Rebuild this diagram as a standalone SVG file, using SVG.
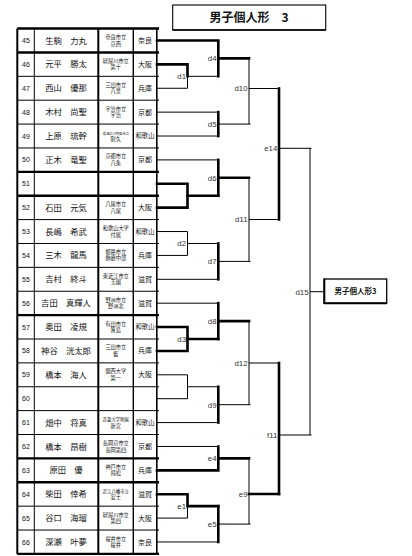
<svg xmlns="http://www.w3.org/2000/svg" width="412" height="556" viewBox="0 0 412 556">
<style>
.tk{stroke:#000;stroke-width:2.6;fill:none;stroke-linecap:square}
.tn{stroke:#000;stroke-width:1;fill:none}
.tb{stroke:#000;fill:none}
.num{font-family:"Liberation Sans","Noto Sans CJK JP",sans-serif;font-size:7px;text-anchor:middle;fill:#111}
.nm{font-family:"Noto Sans CJK JP",sans-serif;font-size:8.3px;text-anchor:middle;fill:#111}
.sc{font-family:"Noto Sans CJK JP",sans-serif;font-size:5.2px;text-anchor:middle;fill:#111}
.pf{font-family:"Noto Sans CJK JP",sans-serif;font-size:7px;text-anchor:middle;fill:#111}
.pf3{font-family:"Noto Sans CJK JP",sans-serif;font-size:6.3px;text-anchor:middle;fill:#111}
.lb{font-family:"Liberation Sans",sans-serif;font-size:7.8px;text-anchor:end;fill:#333}
.ttl{font-family:"Noto Sans CJK JP",sans-serif;font-size:12px;font-weight:bold;text-anchor:middle;fill:#111}
.res{font-family:"Noto Sans CJK JP",sans-serif;font-size:7.5px;font-weight:bold;text-anchor:middle;fill:#111}
</style>

<g id="title">
<rect x="172.7" y="5" width="153" height="25" fill="#fff" stroke="#000" stroke-width="1.1"/>
<line x1="172.7" y1="30" x2="325.7" y2="30" stroke="#000" stroke-width="1.6"/>
<text class="ttl" x="249" y="22">男子個人形　3</text>
</g>

<g id="table-grid">
<g class="tb" stroke-width="1">
<line x1="17.3" y1="76.32" x2="159" y2="76.32"/>
<line x1="17.3" y1="100.2" x2="159" y2="100.2"/>
<line x1="17.3" y1="124.08" x2="159" y2="124.08"/>
<line x1="17.3" y1="147.96" x2="159" y2="147.96"/>
<line x1="17.3" y1="219.6" x2="159" y2="219.6"/>
<line x1="17.3" y1="243.48" x2="159" y2="243.48"/>
<line x1="17.3" y1="267.36" x2="159" y2="267.36"/>
<line x1="17.3" y1="291.24" x2="159" y2="291.24"/>
<line x1="17.3" y1="339" x2="159" y2="339"/>
<line x1="17.3" y1="362.88" x2="159" y2="362.88"/>
<line x1="17.3" y1="386.76" x2="159" y2="386.76"/>
<line x1="17.3" y1="410.64" x2="159" y2="410.64"/>
<line x1="17.3" y1="434.52" x2="159" y2="434.52"/>
<line x1="17.3" y1="506.16" x2="159" y2="506.16"/>
<line x1="17.3" y1="530.04" x2="159" y2="530.04"/>
</g>
<g class="tb" stroke-width="2.4">
<line x1="17.3" y1="28.56" x2="159" y2="28.56"/>
<line x1="17.3" y1="52.44" x2="159" y2="52.44"/>
<line x1="17.3" y1="171.84" x2="159" y2="171.84"/>
<line x1="17.3" y1="195.72" x2="159" y2="195.72"/>
<line x1="17.3" y1="315.12" x2="159" y2="315.12"/>
<line x1="17.3" y1="458.4" x2="159" y2="458.4"/>
<line x1="17.3" y1="482.28" x2="159" y2="482.28"/>
<line x1="17.3" y1="553.92" x2="159" y2="553.92"/>
</g>
<line class="tb" stroke-width="2" x1="17.3" y1="28.56" x2="17.3" y2="553.92"/>
<line class="tb" stroke-width="1" x1="34.3" y1="28.56" x2="34.3" y2="553.92"/>
<line class="tb" stroke-width="2" x1="98.3" y1="28.56" x2="98.3" y2="553.92"/>
<line class="tb" stroke-width="1.4" x1="133.3" y1="28.56" x2="133.3" y2="553.92"/>
<line class="tb" stroke-width="1.6" x1="156.8" y1="28.56" x2="156.8" y2="553.92"/>
</g>

<g id="p45"><text class="num" x="26" y="43">45</text><text class="nm" x="66" y="43.5">生駒　力丸</text><text class="sc" x="115.8" y="39">奈良市立</text><text class="sc" x="115.8" y="45.5">京西</text><text class="pf" x="145" y="43">奈良</text></g>
<g id="p46"><text class="num" x="26" y="66.9">46</text><text class="nm" x="66" y="67.4">元平　勝太</text><text class="sc" x="115.8" y="62.9">寝屋川市立</text><text class="sc" x="115.8" y="69.4">第十</text><text class="pf" x="145" y="66.9">大阪</text></g>
<g id="p47"><text class="num" x="26" y="90.8">47</text><text class="nm" x="66" y="91.3">西山　優那</text><text class="sc" x="115.8" y="86.8">三田市立</text><text class="sc" x="115.8" y="93.3">八景</text><text class="pf" x="145" y="90.8">兵庫</text></g>
<g id="p48"><text class="num" x="26" y="114.6">48</text><text class="nm" x="66" y="115.1">木村　尚聖</text><text class="sc" x="115.8" y="110.6">宇治市立</text><text class="sc" x="115.8" y="117.1">宇治</text><text class="pf" x="145" y="114.6">京都</text></g>
<g id="p49"><text class="num" x="26" y="138.5">49</text><text class="nm" x="66" y="139">上原　琉幹</text><text class="sc" x="115.8" y="134.5" style="font-size:3.3px">湯浅広川町組合立</text><text class="sc" x="115.8" y="141">耐久</text><text class="pf3" x="145" y="138.3">和歌山</text></g>
<g id="p50"><text class="num" x="26" y="162.4">50</text><text class="nm" x="66" y="162.9">正木　竜聖</text><text class="sc" x="115.8" y="158.4">京都市立</text><text class="sc" x="115.8" y="164.9">八条</text><text class="pf" x="145" y="162.4">京都</text></g>
<g id="p51"><text class="num" x="26" y="186.3">51</text></g>
<g id="p52"><text class="num" x="26" y="210.2">52</text><text class="nm" x="66" y="210.7">石田　元気</text><text class="sc" x="115.8" y="206.2">八尾市立</text><text class="sc" x="115.8" y="212.7">八尾</text><text class="pf" x="145" y="210.2">大阪</text></g>
<g id="p53"><text class="num" x="26" y="234">53</text><text class="nm" x="66" y="234.5">長嶋　希武</text><text class="sc" x="115.8" y="230">和歌山大学</text><text class="sc" x="115.8" y="236.5">付属</text><text class="pf3" x="145" y="233.8">和歌山</text></g>
<g id="p54"><text class="num" x="26" y="257.9">54</text><text class="nm" x="66" y="258.4">三木　龍馬</text><text class="sc" x="115.8" y="253.9">姫路市立</text><text class="sc" x="115.8" y="260.4">飾磨中部</text><text class="pf" x="145" y="257.9">兵庫</text></g>
<g id="p55"><text class="num" x="26" y="281.8">55</text><text class="nm" x="66" y="282.3">吉村　終斗</text><text class="sc" x="115.8" y="277.8">東近江市立</text><text class="sc" x="115.8" y="284.3">玉園</text><text class="pf" x="145" y="281.8">滋賀</text></g>
<g id="p56"><text class="num" x="26" y="305.7">56</text><text class="nm" x="66" y="306.2">吉田　真輝人</text><text class="sc" x="115.8" y="301.7">野洲市立</text><text class="sc" x="115.8" y="308.2">野洲北</text><text class="pf" x="145" y="305.7">滋賀</text></g>
<g id="p57"><text class="num" x="26" y="329.6">57</text><text class="nm" x="66" y="330.1">奥田　凌規</text><text class="sc" x="115.8" y="325.6">有田市立</text><text class="sc" x="115.8" y="332.1">箕島</text><text class="pf3" x="145" y="329.4">和歌山</text></g>
<g id="p58"><text class="num" x="26" y="353.4">58</text><text class="nm" x="66" y="353.9">神谷　洸太郎</text><text class="sc" x="115.8" y="349.4">三田市立</text><text class="sc" x="115.8" y="355.9">藍</text><text class="pf" x="145" y="353.4">兵庫</text></g>
<g id="p59"><text class="num" x="26" y="377.3">59</text><text class="nm" x="66" y="377.8">橋本　海人</text><text class="sc" x="115.8" y="373.3">関西大学</text><text class="sc" x="115.8" y="379.8">第一</text><text class="pf" x="145" y="377.3">大阪</text></g>
<g id="p60"><text class="num" x="26" y="401.2">60</text></g>
<g id="p61"><text class="num" x="26" y="425.1">61</text><text class="nm" x="66" y="425.6">畑中　将真</text><text class="sc" x="115.8" y="421.1" style="font-size:4.4px">近畿大学附属</text><text class="sc" x="115.8" y="427.6">新宮</text><text class="pf3" x="145" y="424.9">和歌山</text></g>
<g id="p62"><text class="num" x="26" y="449">62</text><text class="nm" x="66" y="449.5">橋本　昂樹</text><text class="sc" x="115.8" y="445">長岡京市立</text><text class="sc" x="115.8" y="451.5">長岡第四</text><text class="pf" x="145" y="449">京都</text></g>
<g id="p63"><text class="num" x="26" y="472.8">63</text><text class="nm" x="66" y="473.3">原田　優</text><text class="sc" x="115.8" y="468.8">神戸市立</text><text class="sc" x="115.8" y="475.3">飛松</text><text class="pf" x="145" y="472.8">兵庫</text></g>
<g id="p64"><text class="num" x="26" y="496.7">64</text><text class="nm" x="66" y="497.2">柴田　倖希</text><text class="sc" x="115.8" y="492.7" style="font-size:4.4px">近江八幡市立</text><text class="sc" x="115.8" y="499.2">安土</text><text class="pf" x="145" y="496.7">滋賀</text></g>
<g id="p65"><text class="num" x="26" y="520.6">65</text><text class="nm" x="66" y="521.1">谷口　海瑠</text><text class="sc" x="115.8" y="516.6">寝屋川市立</text><text class="sc" x="115.8" y="523.1">第四</text><text class="pf" x="145" y="520.6">大阪</text></g>
<g id="p66"><text class="num" x="26" y="544.5">66</text><text class="nm" x="66" y="545">深瀬　叶夢</text><text class="sc" x="115.8" y="540.5">桜井市立</text><text class="sc" x="115.8" y="547">桜井</text><text class="pf" x="145" y="544.5">奈良</text></g>

<g id="connectors">
<g class="tn">
<path d="M157 88.26H187.5V76.32"/>
<path d="M157 112.14H218.3"/>
<path d="M157 136.02H218.3"/>
<path d="M157 159.9H218.3"/>
<path d="M157 231.54H187.5V255.42H157"/>
<path d="M157 279.3H218.3"/>
<path d="M157 303.18H218.3"/>
<path d="M157 374.82H187.5V398.7H157"/>
<path d="M157 422.58H218.3"/>
<path d="M157 446.46H218.3"/>
<path d="M157 518.1H187.5V506.16"/>
<path d="M157 541.98H218.3"/>
<path d="M187.5 76.32H218.3"/>
<path d="M187.5 243.48H218.3"/>
<path d="M187.5 386.76H218.3"/>
<path d="M218.3 124.08H250.5"/>
<path d="M218.3 261.4H250.5"/>
<path d="M218.3 404.7H250.5"/>
<path d="M218.3 524.07H250.5"/>
<path d="M249 58.4V124.08"/>
<path d="M249 177.8V261.4"/>
<path d="M249 321.1V404.7"/>
<path d="M249 458.4V524.07"/>
<path d="M249 88.5H279"/>
<path d="M249 219.5H279"/>
<path d="M249 363H279"/>
<path d="M279 148.3H311.5"/>
<path d="M279 435H311.5"/>
<path d="M310 148.3V435"/>
<path d="M310 291.7H324.3"/>
</g>
<g class="tk">
<path d="M157 40.5H218.3V76.32"/>
<path d="M157 64.38H187.5V76.32"/>
<path d="M157 183.78H187.5V207.66H157"/>
<path d="M187.5 195.72H218.3"/>
<path d="M218.3 159.9V195.72"/>
<path d="M157 327.06H187.5V350.94H157"/>
<path d="M187.5 339H218.3"/>
<path d="M218.3 303.18V339"/>
<path d="M157 470.34H218.3V446.46"/>
<path d="M157 494.22H187.5V506.16H218.3"/>
<path d="M218.3 112.14V136.02"/>
<path d="M218.3 243.48V279.3"/>
<path d="M218.3 386.76V422.58"/>
<path d="M218.3 506.16V541.98"/>
<path d="M218.3 58.4H249"/>
<path d="M218.3 177.8H249"/>
<path d="M218.3 321.1H249"/>
<path d="M218.3 458.4H249"/>
<path d="M249 494H279"/>
<path d="M279 88.5V219.5"/>
<path d="M279 363V494"/>
</g>
<g id="labels">
<text class="lb" x="186" y="79.1">d1</text>
<text class="lb" x="186" y="246.3">d2</text>
<text class="lb" x="186" y="341.8">d3</text>
<text class="lb" x="186" y="509">e1</text>
<text class="lb" x="216.5" y="61.2">d4</text>
<text class="lb" x="216.5" y="126.9">d5</text>
<text class="lb" x="216.5" y="180.6">d6</text>
<text class="lb" x="216.5" y="264.2">d7</text>
<text class="lb" x="216.5" y="323.9">d8</text>
<text class="lb" x="216.5" y="407.5">d9</text>
<text class="lb" x="216.5" y="461.2">e4</text>
<text class="lb" x="216.5" y="526.9">e5</text>
<text class="lb" x="247.5" y="91.3">d10</text>
<text class="lb" x="247.5" y="222.3">d11</text>
<text class="lb" x="247.5" y="365.8">d12</text>
<text class="lb" x="247.5" y="496.8">e9</text>
<text class="lb" x="277.3" y="151.1">e14</text>
<text class="lb" x="277.3" y="437.8">f11</text>
<text class="lb" x="308.5" y="294.5">d15</text>
</g>
</g>

<g id="result">
<rect x="324.3" y="279" width="62.4" height="24.3" fill="#fff" stroke="#000" stroke-width="1.3"/>
<line x1="324.3" y1="278.5" x2="324.3" y2="304" stroke="#000" stroke-width="2"/>
<line x1="324.3" y1="303.3" x2="386.7" y2="303.3" stroke="#000" stroke-width="2"/>
<text class="res" x="355.5" y="294.2">男子個人形3</text>
</g>
</svg>
